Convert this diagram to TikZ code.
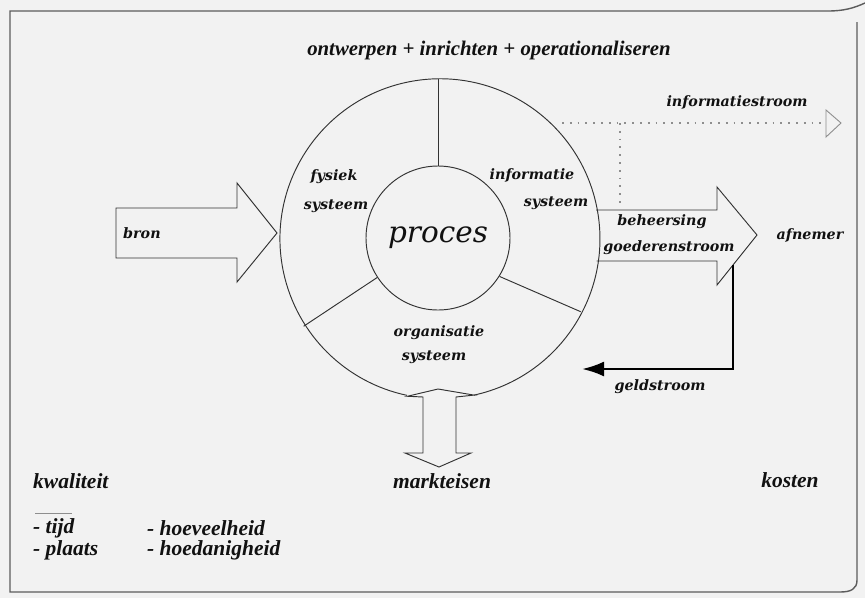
\documentclass[tikz,border=0pt]{standalone}
\usepackage{fontspec}
\setmainfont{Liberation Serif}
\newfontfamily\wideserif{DejaVu Serif}
\usetikzlibrary{arrows.meta}

\definecolor{paper}{HTML}{F2F2F2}
\definecolor{ink}{HTML}{333333}
\definecolor{txt}{HTML}{111111}
\definecolor{dotgray}{HTML}{8E8E8E}

\tikzset{
  wlabel/.style={font=\wideserif\bfseries\itshape\fontsize{14.3}{16}\selectfont, text=txt, inner sep=0pt},
  tlabel/.style={font=\bfseries\itshape\fontsize{21.5}{23}\selectfont, text=txt, inner sep=0pt},
  thin ink/.style={draw=ink, line width=0.95pt},
  blockarrow/.style={draw=ink, line width=0.95pt, line join=miter},
  infoline/.style={draw=dotgray, line width=1.8pt, dash pattern=on 1.8pt off 6pt},
  moneyline/.style={draw=black, line width=2.6pt},
  framestyle/.style={draw=ink!80, line width=1.4pt}
}

\begin{document}
\begin{tikzpicture}[x=1pt,y=-1pt]
\useasboundingbox (0,0) rectangle (865,598);
\fill[paper] (0,0) rectangle (865,598);

% page frame with curled right corners
\draw[framestyle] (857,22) -- (857,580) .. controls (857,589) and (851,592) .. (840,592)
  -- (10,592) -- (10,11) -- (828,11) .. controls (844,11) and (854,8) .. (865,3);

% process wheel
\node[circle, minimum size=320pt, inner sep=0pt, draw=none] (ring) at (438,239) {};
\node[circle, minimum size=144pt, inner sep=0pt, thin ink,
      font=\wideserif\itshape\fontsize{29.5}{32}\selectfont, text=txt] (core) at (438,238) {proces};
\draw[thin ink] (ring.-77.7) arc[start angle=77.7, end angle=-258.1, radius=160];
\draw[thin ink] (core.90) -- (ring.90);
\draw[thin ink] (core.213) -- (ring.213);
\draw[thin ink] (core.-32.5) -- (ring.-27.5);

\node[wlabel] (fys1) at (334,177) {fysiek};
\node[wlabel] (fys2) at (336,206) {systeem};
\node[wlabel] (inf1) at (532,175) {informatie};
\node[wlabel] (inf2) at (556,203) {systeem};
\node[wlabel] (org1) at (439,333) {organisatie};
\node[wlabel] (org2) at (434,357) {systeem};

% incoming flow
\draw[blockarrow] (116,208) -- (237,208) -- (237,183) -- (277,233) -- (237,282)
  -- (237,258) -- (116,258) -- cycle;
\node[wlabel, anchor=west] (bron) at (123,233) {bron};

% outgoing goods flow
\draw[blockarrow] (596,210) -- (717,210) -- (717,187) -- (757,235) -- (717,285)
  -- (717,261) -- (596.5,261);
\node[wlabel] (beh1) at (662,222) {beheersing};
\node[wlabel] (beh2) at (669,248) {goederenstroom};
\node[wlabel] (afnemer) at (810,235) {afnemer};

% money flow back
\coordinate (geldstart) at (733,265);
\coordinate (geldend) at (582,369);
\draw[moneyline, -{Latex[length=22pt,width=15pt]}] (geldstart) |- (geldend);
\node[wlabel] (geld) at (660,387) {geldstroom};

% information flow
\coordinate (infostart) at (562,123);
\coordinate (infoend) at (841,123);
\coordinate (infobranch) at (620,123);
\coordinate (infofoot) at (620,203);
\draw[infoline] (infostart) -- (824,123);
\draw[draw=dotgray, line width=0.9pt, line join=miter] (826,110) -- (infoend) -- (826,137) -- cycle;
\draw[infoline] (infobranch) -- (infofoot);
\node[wlabel] (infolabel) at (737,102) {informatiestroom};

% market demands, two-way
\draw[blockarrow] (ring.-101.9) -- (438,389) -- (ring.-77.7) -- (456,397) -- (456,453)
  -- (471,453) -- (439,467) -- (405,453) -- (423,453) -- (423,397) -- cycle;
\node[tlabel] (markt) at (442,481) {markteisen};

% top caption
\node[tlabel, font=\bfseries\itshape\fontsize{20.8}{23}\selectfont] (caption) at (489,50)
  {ontwerpen + inrichten + operationaliseren};

% quality, costs
\node[tlabel, anchor=west] (kwal) at (33,481) {kwaliteit};
\draw[draw=dotgray, line width=0.8pt] (35,513) -- (72,513);
\node[tlabel, anchor=west] (tijd) at (33,528) {- tijd};
\node[tlabel, anchor=west] (plaats) at (33,550) {- plaats};
\node[tlabel, anchor=west] (hoev) at (147,528) {- hoeveelheid};
\node[tlabel, anchor=west] (hoed) at (147,550) {- hoedanigheid};
\node[tlabel] (kosten) at (790,480) {kosten};
\end{tikzpicture}
\end{document}
